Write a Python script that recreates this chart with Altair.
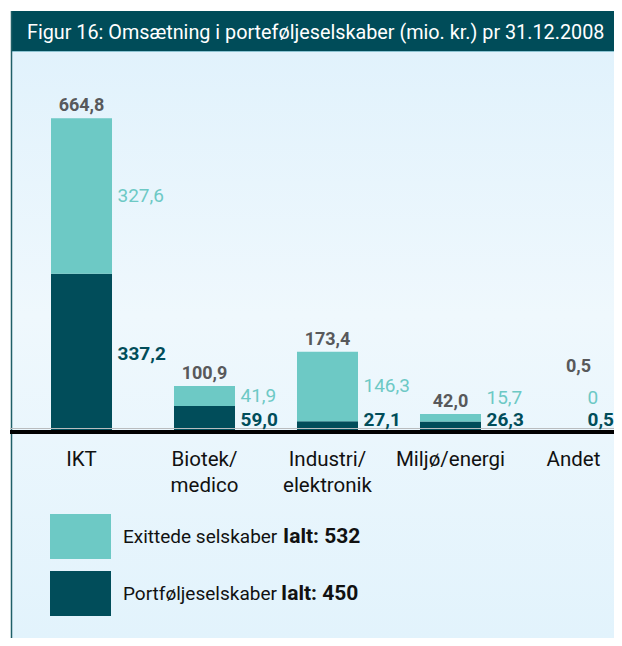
import altair as alt
import pandas as pd

# ---------------- data ----------------
categories = ["IKT", "Biotek/medico", "Industri/elektronik", "Miljø/energi", "Andet"]
axis_labels = ["IKT", "Biotek/\nmedico", "Industri/\nelektronik", "Miljø/energi", "Andet"]
exited = [327.6, 41.9, 146.3, 15.7, 0.0]        # Exittede selskaber (light)
portfolio = [337.2, 59.0, 27.1, 26.3, 0.5]      # Portføljeselskaber (dark)
series_names = ["Exittede selskaber", "Portføljeselskaber"]
series_totals = ["Ialt: 532", "Ialt: 450"]
series_colors = ["#6dc9c5", "#014d5a"]
title_text = "Figur 16: Omsætning i porteføljeselskaber (mio. kr.) pr 31.12.2008"

FONT = "Roboto"
W, H = 606, 630
LABEL_GRAY = "#58595b"

df = pd.DataFrame({
    "category": categories,
    "label": axis_labels,
    "exited": exited,
    "portfolio": portfolio,
})

xs = alt.Scale(domain=categories, range=[43, 596], paddingInner=0.504, paddingOuter=0)
ys = alt.Scale(domain=[0, 700], range=[426, 93.5], nice=False, zero=False)
X = alt.X("category:N", scale=xs, axis=None)

base = alt.Chart(df).transform_calculate(
    total="datum.exited + datum.portfolio"
).transform_calculate(
    andet_total_y="max(datum.total, 116)",
    exit_y="max(datum.portfolio + datum.exited / 2, 76)",
    port_y="max(datum.portfolio / 2, 29.5)",
    total_txt="replace(format(datum.total, '.1f'), '.', ',')",
    exit_txt="datum.exited == 0 ? '0' : replace(format(datum.exited, '.1f'), '.', ',')",
    port_txt="replace(format(datum.portfolio, '.1f'), '.', ',')",
)

deco = alt.Chart(pd.DataFrame({"k": [0]}))

gradient = alt.Gradient(
    gradient="linear", x1=0, x2=0, y1=0, y2=1,
    stops=[alt.GradientStop(color="#e1f2fc", offset=0),
           alt.GradientStop(color="#eff8fd", offset=0.45),
           alt.GradientStop(color="#e2f3fc", offset=1)],
)

background = deco.mark_rect(color=gradient).encode(
    x=alt.value(3), x2=alt.value(W), y=alt.value(43), y2=alt.value(H))
title_bar = deco.mark_rect(color="#004c59").encode(
    x=alt.value(3), x2=alt.value(W), y=alt.value(3), y2=alt.value(43))
title_edge = deco.mark_rule(color="#8cc3d2", strokeWidth=1).encode(
    x=alt.value(3), x2=alt.value(W), y=alt.value(43.5))
left_border = deco.mark_rule(color="#1f5f68", strokeWidth=1.5).encode(
    x=alt.value(3.5), y=alt.value(3), y2=alt.value(H))
title = deco.mark_text(align="left", baseline="alphabetic", font=FONT, fontSize=19.8,
                       color="white").encode(
    x=alt.value(19), y=alt.value(31), text=alt.value(title_text))

dark_bars = base.mark_bar(color=series_colors[1]).encode(
    x=X, y=alt.Y("portfolio:Q", scale=ys, axis=None), y2=alt.datum(0))
light_bars = base.mark_bar(color=series_colors[0]).encode(
    x=X, y=alt.Y("total:Q", scale=ys, axis=None), y2="portfolio:Q")

gray_line = deco.mark_rule(color="#b9bcbe", strokeWidth=1).encode(
    x=alt.value(2), x2=alt.value(W), y=alt.value(420.5))
baseline = deco.mark_rule(color="black", strokeWidth=4).encode(
    x=alt.value(2), x2=alt.value(W), y=alt.value(424))

not_andet = "datum.category != 'Andet'"
is_andet = "datum.category == 'Andet'"

def total_labels(filt, dx, field):
    return base.transform_filter(filt).mark_text(
        dx=dx, dy=-12, baseline="middle", font=FONT, fontSize=18, fontWeight="bold",
        color=LABEL_GRAY).encode(
        x=X, y=alt.Y(field, scale=ys, axis=None), text="total_txt:N")

def seg_labels(filt, dx, field, txt, color, weight):
    return base.transform_filter(filt).mark_text(
        dx=dx, align="left", baseline="middle", font=FONT, fontSize=19,
        fontWeight=weight, color=color).encode(
        x=X, y=alt.Y(field, scale=ys, axis=None), text=txt)

labels = [
    total_labels(not_andet, 0, "total:Q"),
    total_labels(is_andet, 5, "andet_total_y:Q"),
    seg_labels(not_andet, 36, "exit_y:Q", "exit_txt:N", series_colors[0], "normal"),
    seg_labels(is_andet, 14, "exit_y:Q", "exit_txt:N", series_colors[0], "normal"),
    seg_labels(not_andet, 36, "port_y:Q", "port_txt:N", series_colors[1], "bold"),
    seg_labels(is_andet, 14, "port_y:Q", "port_txt:N", series_colors[1], "bold"),
]

cat_labels = base.mark_text(align="center", baseline="alphabetic", font=FONT, fontSize=20.5,
                            lineBreak="\n", lineHeight=26, color="#111111").encode(
    x=X, y=alt.value(458), text="label:N")

legend_layers = []
bold_x = [275, 273]
for i, (name, tot, col) in enumerate(zip(series_names, series_totals, series_colors)):
    top = 506 + i * 57
    legend_layers.append(deco.mark_rect(color=col).encode(
        x=alt.value(42), x2=alt.value(103), y=alt.value(top), y2=alt.value(top + 45)))
    legend_layers.append(deco.mark_text(align="left", baseline="alphabetic", font=FONT,
                                        fontSize=19, color="#111111").encode(
        x=alt.value(115), y=alt.value(top + 29), text=alt.value(name)))
    legend_layers.append(deco.mark_text(align="left", baseline="alphabetic", font=FONT,
                                        fontSize=21, fontWeight="bold", color="#111111").encode(
        x=alt.value(bold_x[i]), y=alt.value(top + 29), text=alt.value(tot)))

chart = alt.layer(
    background, title_bar, title_edge, left_border, title,
    dark_bars, light_bars, gray_line, baseline,
    *labels, cat_labels, *legend_layers,
).properties(
    width=W, height=H, padding=0, autosize=alt.AutoSizeParams(type="none")
).configure_view(stroke=None)

chart.save("out.html", embed_options={"renderer": "svg", "actions": False})
